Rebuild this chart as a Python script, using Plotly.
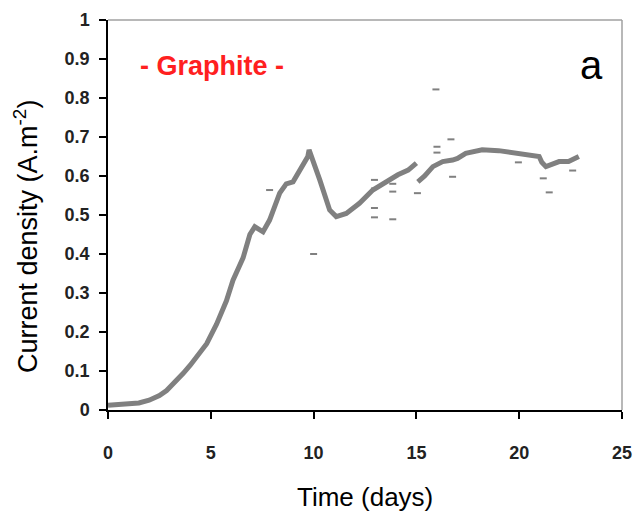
import plotly.graph_objects as go

# Main curve, segment 1 (days, A.m-2)
t1 = [0.0, 0.5, 1.0, 1.5, 2.0, 2.5, 2.85, 3.2, 3.66, 4.0, 4.47, 4.8, 5.28, 5.76, 6.08,
      6.57, 6.9, 7.14, 7.54, 7.86, 8.35, 8.67, 9.0, 9.32, 9.72, 9.78, 9.97, 10.3, 10.78,
      11.1, 11.59, 12.23, 12.88, 13.53, 14.1, 14.6, 15.0]
v1 = [0.012, 0.013, 0.015, 0.018, 0.025, 0.037, 0.05, 0.068, 0.094, 0.115, 0.145, 0.17,
      0.22, 0.28, 0.333, 0.39, 0.45, 0.47, 0.457, 0.487, 0.556, 0.58, 0.585, 0.615, 0.65,
      0.667, 0.64, 0.59, 0.513, 0.496, 0.504, 0.53, 0.564, 0.585, 0.603, 0.615, 0.633]

# Main curve, segment 2
t2 = [15.07, 15.4, 15.8, 16.28, 16.76, 17.0, 17.4, 18.2, 19.0, 19.7, 20.3, 20.97, 21.1,
      21.3, 21.94, 22.4, 22.9]
v2 = [0.585, 0.60, 0.624, 0.637, 0.641, 0.645, 0.658, 0.667, 0.665, 0.66, 0.654, 0.65,
      0.635, 0.624, 0.637, 0.637, 0.65]

# Scattered outlier readings
t_out = [7.86, 10.0, 12.96, 12.96, 12.96, 12.96, 13.85, 13.85, 13.85, 15.05, 15.95, 16.0,
         16.0, 16.68, 16.76, 19.96, 21.17, 21.46, 22.6]
v_out = [0.564, 0.40, 0.59, 0.568, 0.518, 0.494, 0.58, 0.56, 0.489, 0.556, 0.822, 0.66,
         0.675, 0.694, 0.598, 0.635, 0.594, 0.558, 0.614]

x_ticks = [0, 5, 10, 15, 20, 25]
y_ticks = [0, 0.1, 0.2, 0.3, 0.4, 0.5, 0.6, 0.7, 0.8, 0.9, 1]
y_tick_text = ["0", "0.1", "0.2", "0.3", "0.4", "0.5", "0.6", "0.7", "0.8", "0.9", "1"]

GREY = "#808080"

fig = go.Figure()
fig.add_trace(go.Scatter(x=t1, y=v1, mode="lines", line=dict(color=GREY, width=5),
                         showlegend=False, hoverinfo="skip"))
fig.add_trace(go.Scatter(x=t2, y=v2, mode="lines", line=dict(color=GREY, width=5),
                         showlegend=False, hoverinfo="skip"))
fig.add_trace(go.Scatter(x=t_out, y=v_out, mode="markers",
                         marker=dict(symbol="line-ew", size=5, line=dict(color=GREY, width=2)),
                         showlegend=False, hoverinfo="skip"))

tickfont = dict(family="Liberation Sans, Arial, sans-serif", size=18, color="#222222", weight="bold")

fig.update_layout(
    width=635, height=511,
    margin=dict(l=108, r=13, t=20, b=101),
    paper_bgcolor="white", plot_bgcolor="white",
    xaxis=dict(range=[0, 25], tickvals=x_ticks, ticktext=[str(v) for v in x_ticks],
               showgrid=False, zeroline=False, showline=True, linecolor="black", linewidth=1.5,
               ticks="outside", ticklen=7, tickwidth=1.5, tickcolor="black",
               tickfont=tickfont, ticklabelstandoff=19, automargin=False),
    yaxis=dict(range=[0, 1], tickvals=y_ticks, ticktext=y_tick_text,
               showgrid=False, zeroline=False, showline=True, linecolor="black", linewidth=1.5,
               ticks="outside", ticklen=7, tickwidth=1.5, tickcolor="black",
               tickfont=tickfont, ticklabelstandoff=6, automargin=False),
    shapes=[
        dict(type="line", xref="paper", yref="paper", x0=0, x1=1, y0=1, y1=1,
             line=dict(color="#a0a0a0", width=1.5)),
        dict(type="line", xref="paper", yref="paper", x0=1, x1=1, y0=0, y1=1,
             line=dict(color="#a0a0a0", width=1.5)),
    ],
    annotations=[
        dict(text="Time (days)", xref="paper", yref="paper", x=0.5, y=0, yshift=-87,
             xanchor="center", yanchor="middle", showarrow=False,
             font=dict(family="Liberation Sans, Arial, sans-serif", size=26, color="black")),
        dict(text="Current density (A.m<sup>-2</sup>)", xref="paper", yref="paper",
             x=0, xshift=-82, y=0.4436, xanchor="center", yanchor="middle", textangle=-90,
             showarrow=False,
             font=dict(family="Liberation Sans, Arial, sans-serif", size=27, color="black")),
        dict(text="- Graphite -", xref="paper", yref="paper", x=0, xshift=104, y=1, yshift=-46,
             xanchor="center", yanchor="middle", showarrow=False,
             font=dict(family="Liberation Sans, Arial, sans-serif", size=27, color="#ff2020",
                       weight="bold")),
        dict(text="a", xref="paper", yref="paper", x=1, xshift=-31, y=1, yshift=-45,
             xanchor="center", yanchor="middle", showarrow=False,
             font=dict(family="Liberation Sans, Arial, sans-serif", size=40, color="black")),
    ],
)

fig.write_html(
    "out.html",
    config={"displayModeBar": False},
    post_script=("document.body.style.margin='0';"
                 "document.body.style.overflow='hidden';"
                 "document.documentElement.style.overflow='hidden';"),
)
